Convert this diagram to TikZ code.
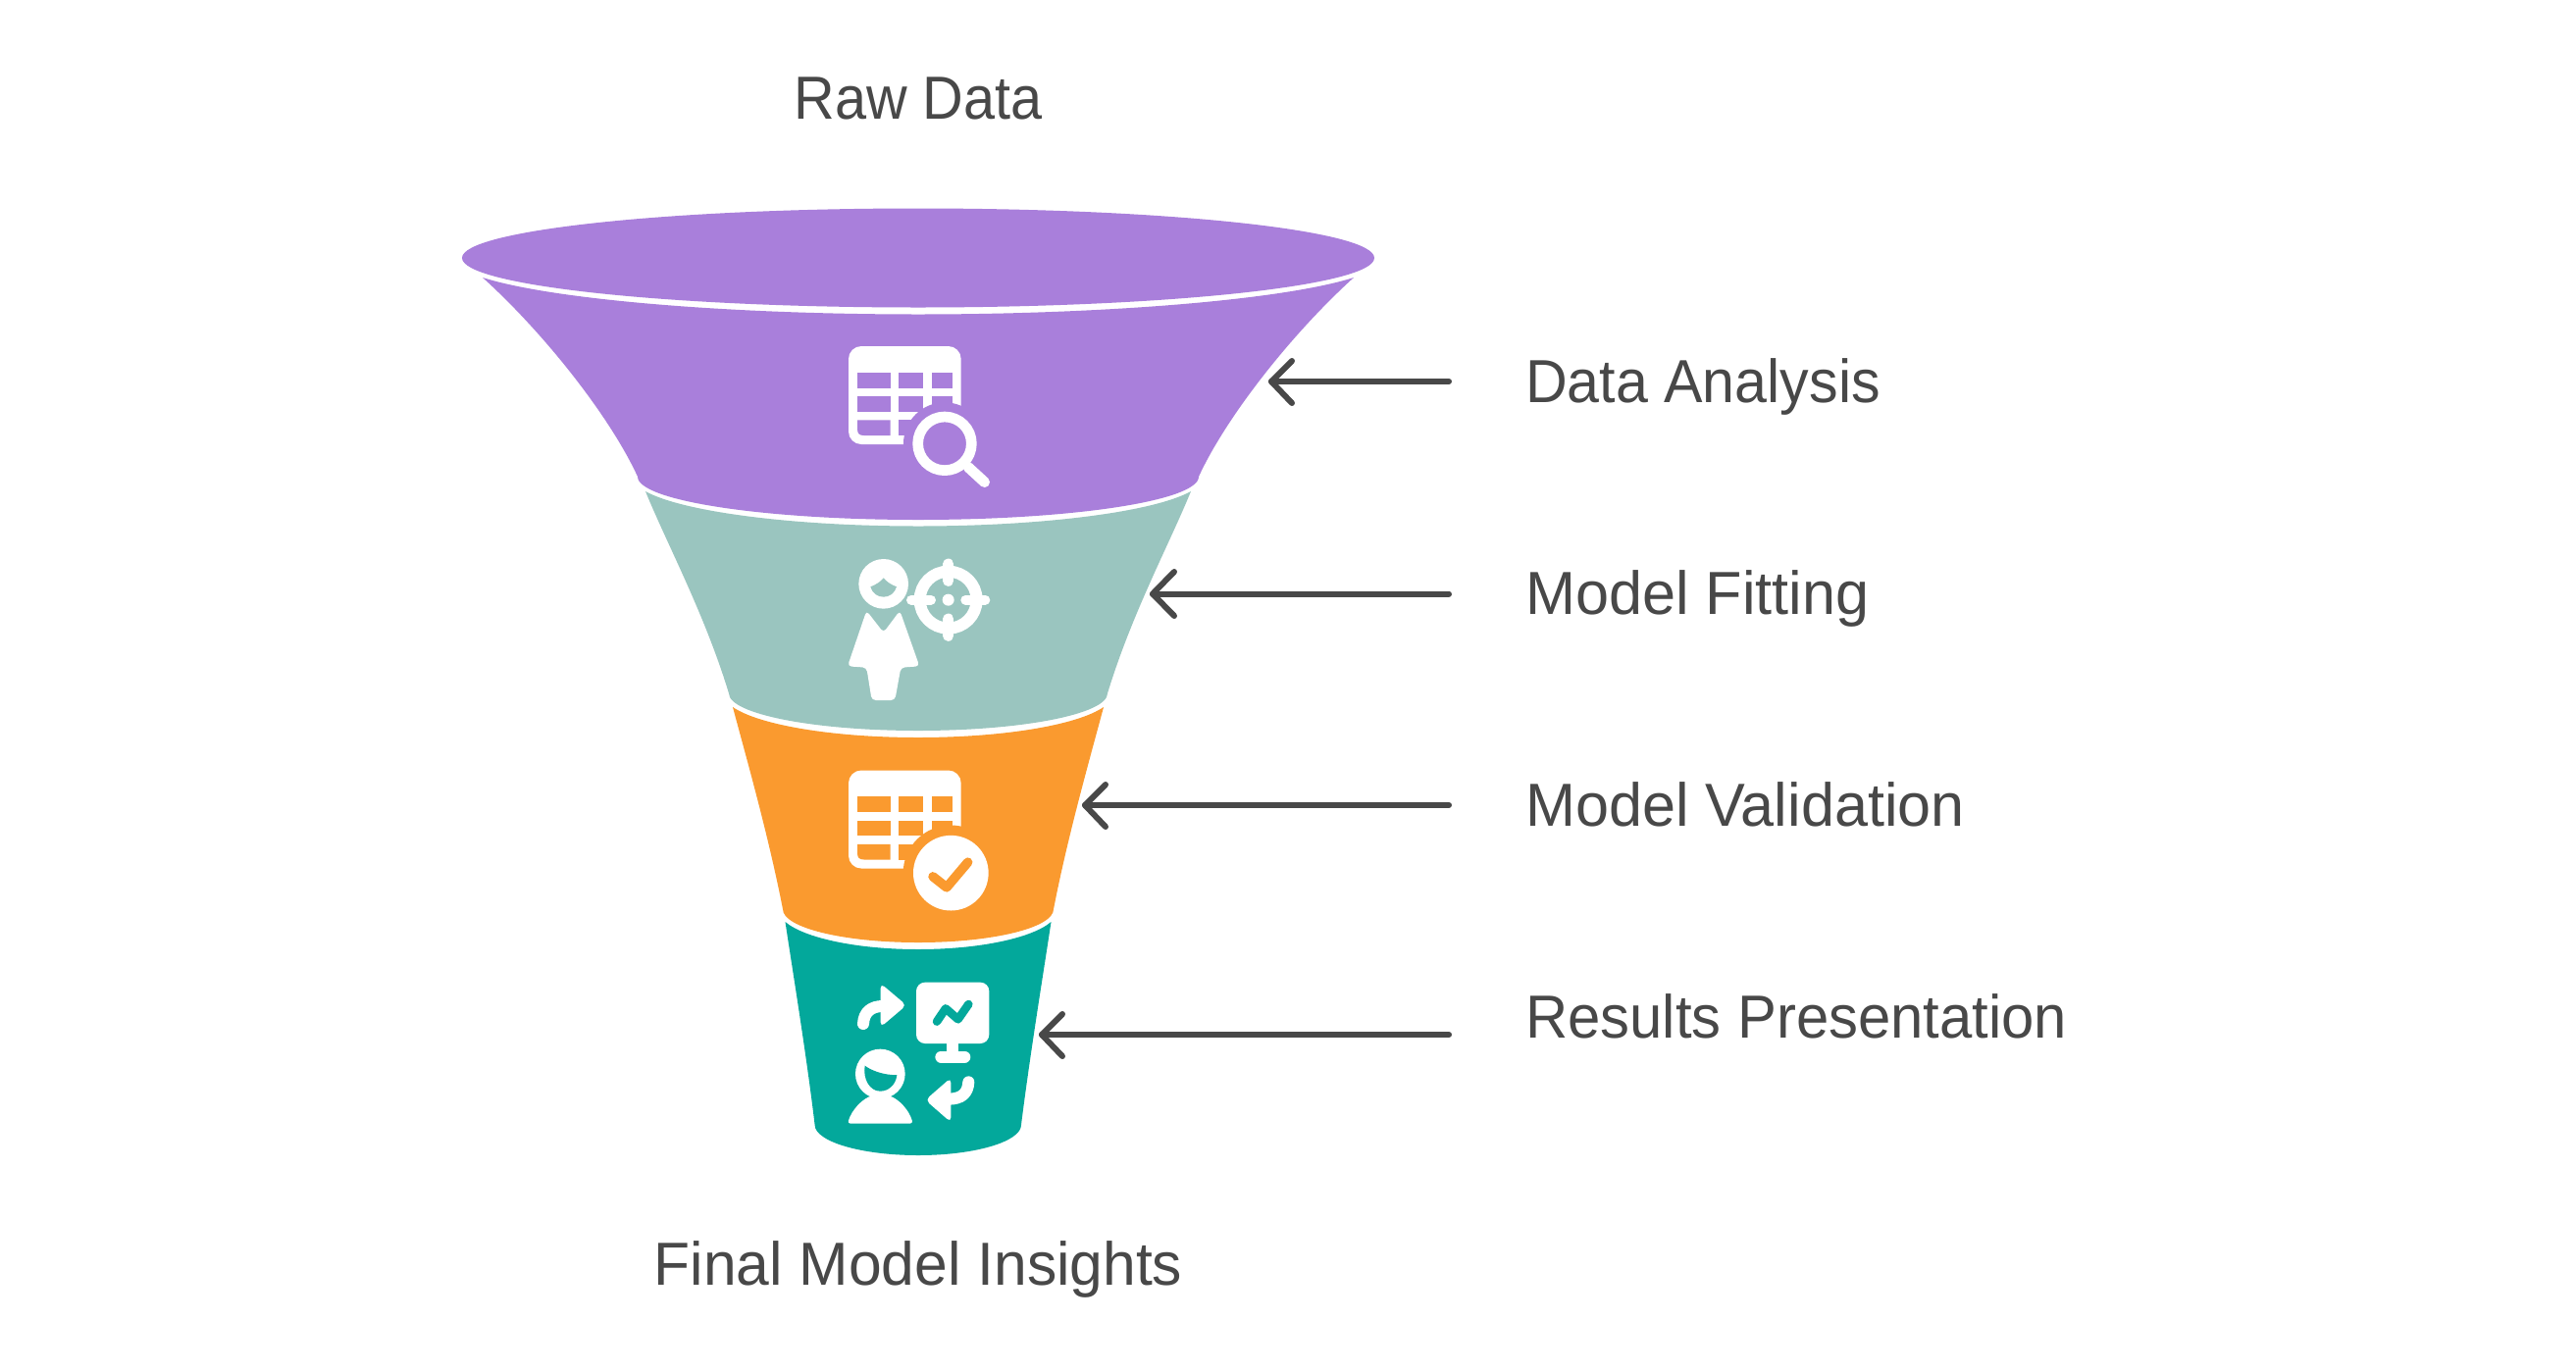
\documentclass[tikz,border=0pt]{standalone}
\usepackage{fontspec}
\setmainfont{Liberation Sans}
\definecolor{cpurple}{HTML}{A97FDB}
\definecolor{cgrey}{HTML}{9AC5BF}
\definecolor{corange}{HTML}{FA9A2F}
\definecolor{cteal}{HTML}{03A89B}
\definecolor{ctext}{HTML}{484848}
\tikzset{
  label text/.style={text=ctext,inner sep=0pt,font=\fontsize{62}{68}\selectfont},
  pointer/.style={draw=ctext,line width=6pt,line cap=round,line join=round},
  whiteline/.style={draw=white,line cap=round,line join=round},
}
\newcommand{\tablebase}[1]{%
  \fill[white,rounded corners=13pt] (0,0) rectangle (344,300);
  \fill[#1] (27,80) rectangle (128,128);
  \fill[#1] (154,80) rectangle (228,128);
  \fill[#1] (254,80) rectangle (318,128);
  \fill[#1] (27,153) rectangle (128,200);
  \fill[#1] (154,153) rectangle (228,200);
  \fill[#1] (254,153) rectangle (318,200);
  \fill[#1] (27,226) -- (128,226) -- (128,273) -- (47,273) .. controls (33,273) and (27,267) .. (27,253) -- cycle;
  \fill[#1] (154,226) rectangle (228,273);
}
\begin{document}
\begin{tikzpicture}[x=1pt,y=-1pt]
\useasboundingbox[fill=white] (0,0) rectangle (2626,1398);
% funnel
\fill[cpurple] (936,263) ellipse [x radius=465pt,y radius=50.5pt];
\path[fill=cpurple] (492,283) .. controls (561,305) and (738,320.5) .. (936,320.5)
  .. controls (1134,320.5) and (1311,305) .. (1380,283)
  .. controls (1317,340) and (1250,425) .. (1222,486)
  .. controls (1222,510.5) and (1094,530) .. (936,530)
  .. controls (778,530) and (650,510.5) .. (650,486)
  .. controls (622,425) and (555,340) .. (492,283) -- cycle;
\path[fill=cgrey] (658,501) .. controls (696,522) and (809,536.5) .. (936,536.5)
  .. controls (1063,536.5) and (1176,522) .. (1214,501)
  .. controls (1192,555) and (1154,625) .. (1129,707)
  .. controls (1129,728) and (1042.5,745) .. (936,745)
  .. controls (829.5,745) and (743,728) .. (743,707)
  .. controls (718,625) and (680,555) .. (658,501) -- cycle;
\path[fill=corange] (747,721) .. controls (774,739.5) and (850,752) .. (936,752)
  .. controls (1022,752) and (1098,739.5) .. (1125,721)
  .. controls (1112,770) and (1089,850) .. (1074,927)
  .. controls (1074,946) and (1012,961) .. (936,961)
  .. controls (860,961) and (798,946) .. (798,927)
  .. controls (783,850) and (760,770) .. (747,721) -- cycle;
\path[fill=cteal] (800.5,940) .. controls (820,956.7) and (874.5,968) .. (936,968)
  .. controls (997.5,968) and (1052,956.7) .. (1071.5,940)
  .. controls (1064,990) and (1050,1075) .. (1041,1147)
  .. controls (1041,1164) and (994,1178) .. (936,1178)
  .. controls (878,1178) and (830.6,1164) .. (830.6,1147)
  .. controls (822,1075) and (808,990) .. (800.5,940) -- cycle;
% icon 1
\begin{scope}[shift={(865,353)},scale=1/3]
  \tablebase{cpurple}
  \fill[cpurple] (294,298) circle [radius=126];
  \draw[whiteline,line width=10.7pt] (294,298) circle [radius=82];
  \draw[whiteline,line width=10.7pt] (366,370) -- (416,416);
\end{scope}
% icon 2
\begin{scope}[shift={(850,560)},scale=1/3]
  \fill[white] (152,106) circle [radius=76];
  \fill[cgrey] (112,115) .. controls (130,108) and (142,100) .. (152,88)
    .. controls (162,100) and (174,108) .. (192,115)
    .. controls (186,135) and (170,146) .. (152,146)
    .. controls (134,146) and (118,135) .. (112,115) -- cycle;
  \fill[white,rounded corners=4pt] (100,188) -- (152,255) -- (202,188) -- (262,358) -- (205,362)
    -- (187,462) -- (116,462) -- (100,362) -- (42,358) -- cycle;
  \draw[whiteline,line width=12pt] (350,155) circle [radius=87];
  \draw[whiteline,line width=10pt] (237,155) -- (297,155);
  \draw[whiteline,line width=10pt] (403,155) -- (463,155);
  \draw[whiteline,line width=11pt] (350,45) -- (350,97);
  \draw[whiteline,line width=11pt] (350,213) -- (350,265);
  \fill[white] (350,155) circle [radius=18];
\end{scope}
% icon 3
\begin{scope}[shift={(865,785.5)},scale=1/3]
  \tablebase{corange}
  \fill[corange] (313,314) circle [radius=146];
  \fill[white] (313,314) circle [radius=115];
  \draw[draw=corange,line width=9.5pt,line cap=round,line join=round] (258,325) -- (300,358) -- (365,281);
\end{scope}
% icon 4
\begin{scope}[shift={(860,1000)},scale=1/3]
  \fill[white,rounded corners=9pt] (222,5) rectangle (445,192);
  \draw[draw=cteal,line width=8.5pt,line cap=round,line join=round] (285,125) -- (312,85) -- (350,118) -- (382,72);
  \fill[white] (316,190) rectangle (350,225);
  \draw[whiteline,line width=12pt] (298,233) -- (370,233);
  \draw[whiteline,line width=12pt] (60,132) .. controls (62,95) and (85,78) .. (120,78);
  \fill[white,rounded corners=5pt] (113,8) -- (192,75) -- (113,142) -- cycle;
  \fill[white] (112,285) circle [radius=76];
  \fill[cteal] (65,260) .. controls (85,275) and (125,290) .. (163,288)
    .. controls (160,320) and (135,338) .. (112,338)
    .. controls (80,338) and (58,300) .. (65,260) -- cycle;
  \fill[white,rounded corners=3pt] (12,437) .. controls (25,395) and (55,365) .. (85,352) -- (140,352)
    .. controls (170,365) and (200,395) .. (212,437) -- cycle;
  \draw[whiteline,line width=12pt] (382,310) .. controls (380,345) and (360,362) .. (320,362);
  \fill[white,rounded corners=5pt] (328,297) -- (250,365) -- (328,433) -- cycle;
\end{scope}
% arrows
\coordinate (a1) at (1296,389); \coordinate (e1) at (1477,389);
\coordinate (a2) at (1175,605.5); \coordinate (e2) at (1477,605.5);
\coordinate (a3) at (1106,821); \coordinate (e3) at (1477,821);
\coordinate (a4) at (1062,1055); \coordinate (e4) at (1477,1055);
\draw[pointer] (e1) -- (a1); \draw[pointer] (1317,368) -- (a1) -- (1317,411);
\draw[pointer] (e2) -- (a2); \draw[pointer] (1197,583) -- (a2) -- (1197,628);
\draw[pointer] (e3) -- (a3); \draw[pointer] (1127,800) -- (a3) -- (1127,843);
\draw[pointer] (e4) -- (a4); \draw[pointer] (1083,1034) -- (a4) -- (1083,1077);
% labels
\node[label text,anchor=base] (raw) at (936,121) {\scalebox{.93}[1]{Raw Data}};
\node[label text,anchor=base west] (l1) at (1555,410) {\scalebox{.954}[1]{Data Analysis}};
\node[label text,anchor=base west] (l2) at (1555,626) {\scalebox{.987}[1]{Model Fitting}};
\node[label text,anchor=base west] (l3) at (1555,842) {\scalebox{.986}[1]{Model Validation}};
\node[label text,anchor=base west] (l4) at (1555,1058) {\scalebox{.965}[1]{Results Presentation}};
\node[label text,anchor=base] (fin) at (936,1310) {\scalebox{.977}[1]{Final Model Insights}};
\end{tikzpicture}
\end{document}
